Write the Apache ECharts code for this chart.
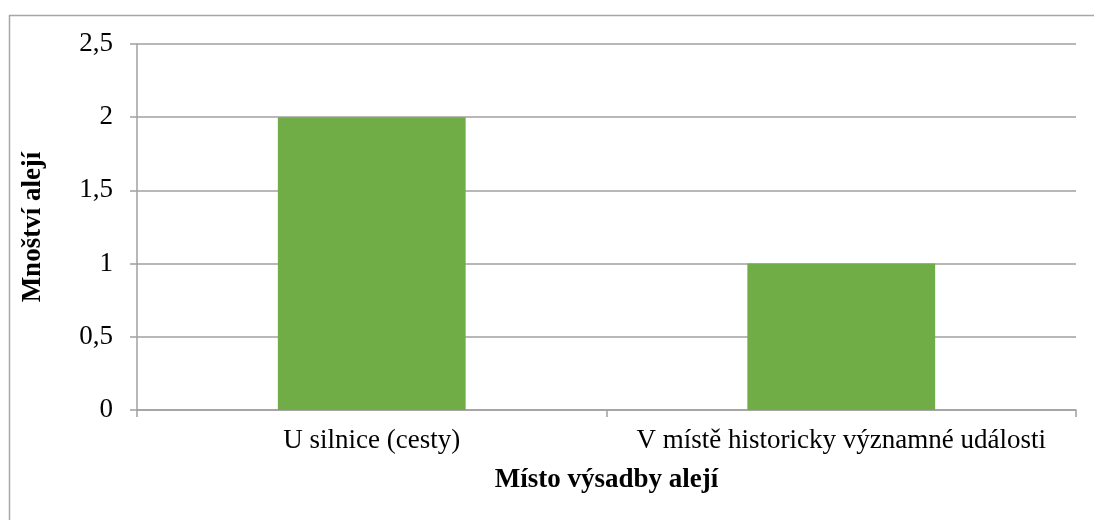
<!DOCTYPE html>
<html>
<head>
<meta charset="utf-8">
<script src="https://cdn.jsdelivr.net/npm/echarts@6/dist/echarts.min.js"></script>
<style>
html,body{margin:0;padding:0;background:#fff;}
#c{width:1094px;height:520px;}
</style>
</head>
<body>
<div id="c"></div>
<script>
const categories = ['U silnice (cesty)', 'V místě historicky významné události'];
const values = [2, 1];
const yTicks = { min: 0, max: 2.5, interval: 0.5 };
const xName = 'Místo výsadby alejí';
const yName = 'Mnoštví alejí';

const font = '"Liberation Serif", "Times New Roman", serif';
const chart = echarts.init(document.getElementById('c'), null, { renderer: 'canvas' });
chart.setOption({
  animation: false,
  backgroundColor: '#fff',
  graphic: [{
    type: 'rect', silent: true,
    shape: { x: 9.5, y: 15.5, width: 1100, height: 520 },
    style: { fill: 'none', stroke: '#a6a6a6', lineWidth: 1.5 }
  }],
  grid: { left: 137, right: 18, top: 44, bottom: 110 },
  xAxis: {
    type: 'category',
    data: categories,
    name: xName,
    nameLocation: 'middle',
    nameGap: 57,
    nameTextStyle: { fontFamily: font, fontSize: 27, fontWeight: 'bold', color: '#000' },
    axisLine: { show: true, lineStyle: { color: '#a0a0a0', width: 1.5 } },
    axisTick: { show: true, interval: 0, length: 7, lineStyle: { color: '#a0a0a0', width: 1.5 } },
    axisLabel: { fontFamily: font, fontSize: 27, color: '#000', margin: 17, interval: 0, hideOverlap: false }
  },
  yAxis: {
    type: 'value',
    min: yTicks.min, max: yTicks.max, interval: yTicks.interval,
    name: yName,
    nameLocation: 'middle',
    nameRotate: 90,
    nameGap: 90,
    nameTextStyle: { fontFamily: font, fontSize: 27, fontWeight: 'bold', color: '#000' },
    axisLine: { show: true, lineStyle: { color: '#a0a0a0', width: 1.5 } },
    axisTick: { show: true, length: 7, lineStyle: { color: '#a0a0a0', width: 1.5 } },
    splitLine: { show: true, lineStyle: { color: '#a0a0a0', width: 1.5 } },
    axisLabel: {
      fontFamily: font, fontSize: 27, color: '#000', margin: 24,
      formatter: v => String(v).replace('.', ',')
    }
  },
  series: [{
    type: 'bar',
    data: values,
    barWidth: '40%',
    itemStyle: { color: '#70ad47' }
  }]
});
</script>
</body>
</html>
